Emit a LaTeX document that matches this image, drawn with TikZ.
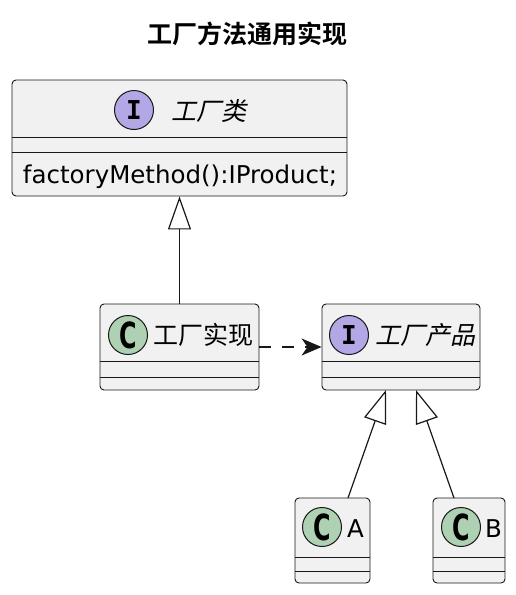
\documentclass[tikz,border=0pt]{standalone}
\usepackage{fontspec}
\setmainfont{DejaVu Sans}
\newfontfamily\cjk{Noto Sans CJK SC}
\newfontfamily\cjkbf{Noto Sans CJK SC Bold}
\newfontfamily\cjkit{Noto Sans CJK SC}[FakeSlant=0.22]
\newfontfamily\monobf{DejaVu Sans Mono Bold}
\usetikzlibrary{arrows.meta,calc}
\definecolor{boxfill}{HTML}{F1F1F1}
\definecolor{boxline}{HTML}{181818}
\definecolor{cfill}{HTML}{ADD1B2}
\definecolor{ifill}{HTML}{B4A7E5}
\tikzset{
  umlbox/.style={draw=boxline, fill=boxfill, line width=0.9pt, rounded corners=4pt, rectangle, inner sep=0pt},
  sepline/.style={draw=boxline, line width=0.9pt},
  cbadge/.style={circle, draw=boxline, fill=cfill, line width=1pt, minimum size=39pt, inner sep=0pt, font=\fontsize{36}{36}\selectfont\bfseries},
  ibadge/.style={circle, draw=boxline, fill=ifill, line width=1pt, minimum size=39pt, inner sep=0pt, font=\fontsize{26}{26}\monobf},
  cname/.style={inner sep=0pt, font=\fontsize{25}{30}\cjk},
  iname/.style={inner sep=0pt, font=\fontsize{25}{30}\cjkit},
  lname/.style={inner sep=0pt, font=\fontsize{24.5}{30}\selectfont, anchor=base},
  gen/.style={draw=boxline, line width=1.2pt, -{Triangle[open, length=33pt, width=23pt, line width=1.2pt]}},
  dep/.style={draw=boxline, line width=1.2pt, dash pattern=on 12pt off 11pt, -{Stealth[length=20pt, width=17pt, inset=6pt]}},
}
\begin{document}
\begin{tikzpicture}[x=1pt,y=-1pt]
\useasboundingbox (0,0) rectangle (516,595);
\fill[white] (0,0) rectangle (516,595);
% title
\node[inner sep=0pt, font=\fontsize{25}{30}\cjkbf] (title) at (247,34) {工厂方法通用实现};
% factory interface
\node[umlbox, minimum width=335pt, minimum height=116pt] (fac) at (179.5,138) {};
\draw[sepline] (12,137) -- (347,137);
\draw[sepline] (12,152) -- (347,152);
\node[ibadge] (facb) at (134,110) {I};
\node[iname] (facn) at (208.5,111) {工厂类};
\node[lname] (facm) at (180,183) {factoryMethod():IProduct;};
% factory impl
\node[umlbox, minimum width=159pt, minimum height=86pt] (impl) at (179.5,347) {};
\draw[sepline] (100,361) -- (259,361);
\draw[sepline] (100,377) -- (259,377);
\node[cbadge] (implb) at (128,335) {\scalebox{0.66}[1]{C}};
\node[cname] (impln) at (203,335) {工厂实现};
% product interface
\node[umlbox, minimum width=158pt, minimum height=86pt] (prod) at (401,347) {};
\draw[sepline] (322,361) -- (480,361);
\draw[sepline] (322,377) -- (480,377);
\node[ibadge] (prodb) at (349,335) {I};
\node[iname] (prodn) at (425,335) {工厂产品};
% A
\node[umlbox, minimum width=75pt, minimum height=85pt] (A) at (332.5,540.5) {};
\draw[sepline] (295,557) -- (370,557);
\draw[sepline] (295,571) -- (370,571);
\node[cbadge] (Ab) at (322,527) {\scalebox{0.66}[1]{C}};
\node[lname] (An) at (355.5,537) {A};
% B
\node[umlbox, minimum width=72pt, minimum height=85pt] (B) at (469,540.5) {};
\draw[sepline] (433,557) -- (505,557);
\draw[sepline] (433,571) -- (505,571);
\node[cbadge] (Bb) at (461,527) {\scalebox{0.66}[1]{C}};
\node[lname] (Bn) at (493.5,537) {B};
% connectors
\coordinate (pA) at (386,390);
\coordinate (pB) at (416,390);
\coordinate (aTop) at (348,498);
\coordinate (bTop) at (454,498);
\draw[gen] (impl.north) -- (fac.south);
\draw[gen] (aTop) -- (pA);
\draw[gen] (bTop) -- (pB);
\draw[dep] (impl.east) -- (prod.west);
\end{tikzpicture}
\end{document}
